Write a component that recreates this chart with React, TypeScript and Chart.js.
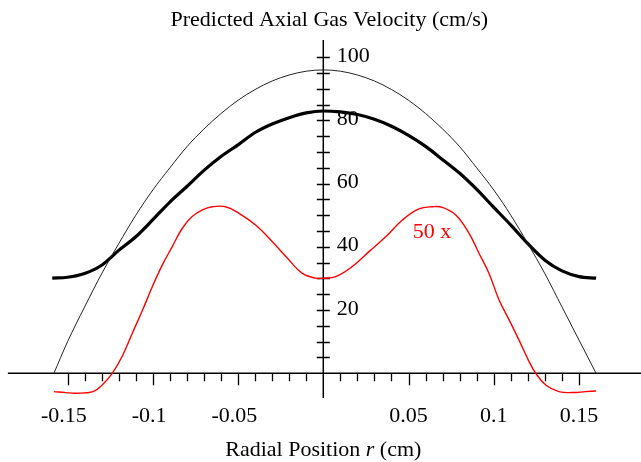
import React, { useEffect, useRef } from "react";
import { Chart, registerables } from "chart.js";

Chart.register(...registerables);

// ---- Data (radial position r in cm, axial gas velocity in cm/s) ----
const thinProfile: [number, number][] = [
  [-0.158, 0], [-0.15, 10], [-0.14, 21], [-0.13, 31.5], [-0.12, 41],
  [-0.11, 50], [-0.1, 58], [-0.09, 65], [-0.08, 71.7], [-0.07, 77.3],
  [-0.06, 82.2], [-0.05, 86.4], [-0.04, 89.8], [-0.03, 92.5], [-0.02, 94.4],
  [-0.01, 95.6], [0, 96], [0.01, 95.6], [0.02, 94.4], [0.03, 92.5],
  [0.04, 89.8], [0.05, 86.4], [0.06, 82.2], [0.07, 77.3], [0.08, 71.7],
  [0.09, 65], [0.1, 58], [0.11, 50], [0.12, 41], [0.13, 31.5],
  [0.14, 21], [0.15, 10.5], [0.16, 0],
];

const thickProfile: [number, number][] = [
  [-0.159, 30.1], [-0.15, 30.4], [-0.14, 31.6], [-0.13, 34.2], [-0.12, 38.9],
  [-0.11, 43.2], [-0.1, 48.6], [-0.09, 54.2], [-0.08, 59.1], [-0.07, 64.2],
  [-0.06, 68.6], [-0.05, 72.3], [-0.04, 76.2], [-0.03, 78.9], [-0.02, 80.9],
  [-0.01, 82.4], [0, 83], [0.01, 82.7], [0.02, 81.9], [0.03, 80.4],
  [0.04, 78.2], [0.05, 75.3], [0.06, 71.8], [0.07, 67.6], [0.08, 63.3],
  [0.09, 58.2], [0.1, 52.5], [0.11, 46.9], [0.12, 41], [0.13, 35.8],
  [0.14, 32.4], [0.15, 30.6], [0.16, 30.1],
];

const redProfile: [number, number][] = [
  [-0.158, -5.8], [-0.151, -6.1], [-0.145, -6.3], [-0.135, -5.8], [-0.1297, -3.7],
  [-0.1238, 0], [-0.118, 5.3], [-0.112, 12.7], [-0.106, 20], [-0.1003, 27.4],
  [-0.0944, 34.3], [-0.0886, 40.1], [-0.0827, 45.9], [-0.0769, 49.6], [-0.0709, 51.7],
  [-0.0651, 52.7], [-0.0573, 52.7], [-0.0494, 50.6], [-0.0397, 46.9], [-0.03, 41.7],
  [-0.0202, 35.9], [-0.0123, 31.6], [-0.0045, 30.1], [0, 30.1], [0.0073, 30.6],
  [0.017, 33.8], [0.0268, 38.5], [0.0366, 43.2], [0.0464, 48.5], [0.0561, 52],
  [0.064, 52.7], [0.0698, 52.5], [0.0777, 50.1], [0.0855, 44.3], [0.0913, 38],
  [0.0972, 31.6], [0.1031, 23.2], [0.109, 16.9], [0.1148, 10.5], [0.1207, 3.7],
  [0.1246, 0], [0.1305, -3.7], [0.1382, -5.8], [0.1461, -6.1], [0.1539, -5.8],
  [0.16, -5.6],
];

// ---- Axes / ticks / labels ----
const xMajorTicks = [-0.15, -0.1, -0.05, 0.05, 0.1, 0.15];
const xMajorLabels = ["-0.15", "-0.1", "-0.05", "0.05", "0.1", "0.15"];
const yLabelTicks = [20, 40, 60, 80, 100];
const yLabels = ["20", "40", "60", "80", "100"];
const yMinorStep = 5;
const yMinorMax = 100;
const xMinorStep = 0.01;
const xMinorCount = 15;

const titleText = "Predicted Axial Gas Velocity (cm/s)";
const xTitleParts = ["Radial Position ", "r", " (cm)"];
const annotationText = "50 x";
const annotationAt = [0.0638, 42.8];

const X_MIN = -0.18962;
const X_MAX = 0.18634;
const Y_MIN = -28.07;
const Y_MAX = 118.13;
const X_AXIS_FROM = -0.185;
const Y_AXIS_TOP = 105.5;
const Y_AXIS_BOTTOM = -7.8;

const FONT = '"Liberation Serif", "Times New Roman", Times, serif';

const axesPlugin = {
  id: "customAxes",
  beforeDatasetsDraw(chart: any) {
    const ctx: CanvasRenderingContext2D = chart.ctx;
    const xs = chart.scales.x;
    const ys = chart.scales.y;
    const x0 = xs.getPixelForValue(0);
    const y0 = ys.getPixelForValue(0);
    ctx.save();
    ctx.strokeStyle = "#000";
    ctx.lineWidth = 1.5;
    ctx.beginPath();
    ctx.moveTo(xs.getPixelForValue(X_AXIS_FROM), y0);
    ctx.lineTo(xs.getPixelForValue(X_MAX), y0);
    ctx.moveTo(x0, ys.getPixelForValue(Y_AXIS_TOP));
    ctx.lineTo(x0, ys.getPixelForValue(Y_AXIS_BOTTOM));
    ctx.stroke();

    ctx.lineWidth = 1.3;
    ctx.beginPath();
    for (let i = -xMinorCount; i <= xMinorCount; i++) {
      if (i === 0) continue;
      const px = Math.round(xs.getPixelForValue(i * xMinorStep)) + 0.5;
      const len = i % 5 === 0 ? 12 : 8;
      ctx.moveTo(px, y0);
      ctx.lineTo(px, y0 + len);
    }
    for (let v = yMinorStep; v <= yMinorMax; v += yMinorStep) {
      const py = Math.round(ys.getPixelForValue(v)) + 0.5;
      ctx.moveTo(x0 - 6.5, py);
      ctx.lineTo(x0 + 6.5, py);
    }
    ctx.stroke();

    ctx.fillStyle = "#000";
    ctx.font = `22px ${FONT}`;
    ctx.textBaseline = "alphabetic";
    // y labels
    ctx.textAlign = "left";
    yLabelTicks.forEach((v, i) => {
      ctx.fillText(yLabels[i], x0 + 13.5, ys.getPixelForValue(v) + 4.5);
    });
    // x labels (numeric part centered on tick)
    ctx.textAlign = "right";
    xMajorTicks.forEach((v, i) => {
      const lab = xMajorLabels[i];
      const num = lab.replace("-", "");
      const w = ctx.measureText(num).width;
      ctx.fillText(lab, xs.getPixelForValue(v) + w / 2, y0 + 48.4);
    });

    // title
    ctx.textAlign = "center";
    ctx.fillText(titleText, x0 + 6, 26);

    // x-axis title with italic r
    ctx.textAlign = "left";
    const normal = `22px ${FONT}`;
    const italic = `italic 22px ${FONT}`;
    const fonts = [normal, italic, normal];
    let total = 0;
    xTitleParts.forEach((p, i) => {
      ctx.font = fonts[i];
      total += ctx.measureText(p).width;
    });
    let cx = x0 - total / 2;
    xTitleParts.forEach((p, i) => {
      ctx.font = fonts[i];
      ctx.fillText(p, cx, 455.5);
      cx += ctx.measureText(p).width;
    });

    // annotation
    ctx.font = normal;
    ctx.fillStyle = "#ff0000";
    ctx.textAlign = "center";
    ctx.fillText(
      annotationText,
      xs.getPixelForValue(annotationAt[0]),
      ys.getPixelForValue(annotationAt[1])
    );
    ctx.restore();
  },
};

const toPoints = (arr: [number, number][]) => arr.map(([x, y]) => ({ x, y }));

export default function App() {
  const ref = useRef<HTMLCanvasElement | null>(null);
  useEffect(() => {
    document.body.style.margin = "0";
    const canvas = ref.current;
    if (!canvas) return;
    const chart = new Chart(canvas, {
      type: "line",
      data: {
        datasets: [
          {
            label: "thin",
            data: toPoints(thinProfile),
            borderColor: "#222",
            borderWidth: 1,
            pointRadius: 0,
            cubicInterpolationMode: "monotone",
            fill: false,
          },
          {
            label: "thick",
            data: toPoints(thickProfile),
            borderColor: "#000",
            borderWidth: 3.2,
            pointRadius: 0,
            cubicInterpolationMode: "monotone",
            fill: false,
          },
          {
            label: "red",
            data: toPoints(redProfile),
            borderColor: "#ff0000",
            borderWidth: 1.4,
            pointRadius: 0,
            tension: 0.4,
            fill: false,
          },
        ],
      },
      options: {
        responsive: false,
        animation: false,
        devicePixelRatio: 1,
        layout: { padding: 0 },
        plugins: {
          legend: { display: false },
          title: { display: false },
          tooltip: { enabled: false },
        },
        scales: {
          x: { type: "linear", min: X_MIN, max: X_MAX, display: false },
          y: { type: "linear", min: Y_MIN, max: Y_MAX, display: false },
        },
      },
      plugins: [axesPlugin],
    });
    return () => chart.destroy();
  }, []);
  return (
    <div style={{ width: 641, height: 462, background: "#fff" }}>
      <canvas ref={ref} width={641} height={462} style={{ display: "block" }} />
    </div>
  );
}
